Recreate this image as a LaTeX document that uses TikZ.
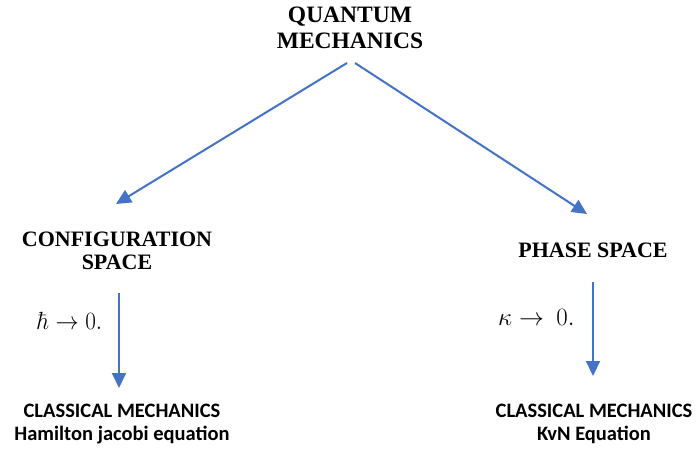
\documentclass[tikz,border=0pt]{standalone}
\usepackage[no-math]{fontspec}
\setmainfont{Liberation Serif}
\newfontfamily\calib{Carlito}
\usetikzlibrary{arrows.meta}
\definecolor{arrowblue}{HTML}{4472C4}
\begin{document}
\begin{tikzpicture}[x=1pt,y=-1pt,
  conn/.style={draw=arrowblue, line width=2pt, -{Triangle[length=15pt,width=14pt]}},
  title/.style={font=\bfseries\fontsize{23.5}{26}\selectfont, align=center, inner sep=0pt, anchor=north},
  sub/.style={font=\bfseries\fontsize{22}{23}\selectfont, align=center, inner sep=0pt, anchor=north},
  cls/.style={font=\calib\bfseries\fontsize{20.5}{22.5}\selectfont, align=center, inner sep=0pt, anchor=north},
  lim/.style={font=\fontsize{26}{30}\selectfont, inner sep=0pt, anchor=base west}]
\useasboundingbox (0,0) rectangle (696,448);
\node[title] (qm) at (350,7) {QUANTUM\\MECHANICS};
\node[sub] (conf) at (117,232) {CONFIGURATION\\SPACE};
\node[sub, anchor=base] (phase) at (593,257) {PHASE SPACE};
\node[lim, xscale=0.93] (hbar) at (37,329) {$\hbar\to 0.$};
\node[lim, font=\fontsize{28}{30}\selectfont] (kappa) at (498,325) {$\kappa\to\mkern4mu 0.$};
\node[cls] (cml) at (122,404) {CLASSICAL MECHANICS\\Hamilton jacobi equation};
\node[cls] (cmr) at (594,404) {CLASSICAL MECHANICS\\KvN Equation};
\coordinate (qmL) at (347,63);
\coordinate (qmR) at (355,63);
\coordinate (confTip) at (116,204);
\coordinate (phaseTip) at (587,214);
\coordinate (confDown) at (119,293);
\coordinate (cmlTip) at (119,388);
\coordinate (phaseDown) at (593,282);
\coordinate (cmrTip) at (593,376);
\draw[conn] (qmL) -- (confTip);
\draw[conn] (qmR) -- (phaseTip);
\draw[conn] (confDown) -- (cmlTip);
\draw[conn] (phaseDown) -- (cmrTip);
\end{tikzpicture}
\end{document}
